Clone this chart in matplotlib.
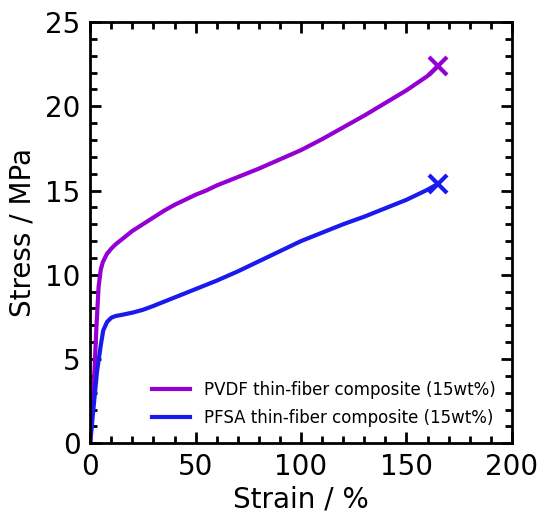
import matplotlib
matplotlib.use('Agg')
import matplotlib.pyplot as plt
from matplotlib.ticker import MultipleLocator

# strain (%) and stress (MPa)
pvdf_strain = [0, 1, 2, 3, 4, 5, 6, 8, 10, 12, 15, 20, 25, 30, 35, 40, 45, 50, 55, 60,
               70, 80, 90, 100, 110, 120, 130, 140, 150, 160, 165]
pvdf_stress = [0, 2.0, 4.2, 7.0, 9.3, 10.3, 10.75, 11.25, 11.55, 11.8, 12.1, 12.6,
               13.0, 13.4, 13.8, 14.15, 14.45, 14.75, 15.0, 15.3, 15.8, 16.3, 16.85,
               17.4, 18.05, 18.75, 19.45, 20.2, 20.95, 21.8, 22.4]

pfsa_strain = [0, 1.5, 3.2, 5, 6.2, 8, 10, 12, 15, 20, 25, 30, 35, 40, 50, 60, 70, 80,
               90, 100, 110, 120, 130, 140, 150, 160, 165]
pfsa_stress = [0, 2.0, 4.2, 5.8, 6.7, 7.2, 7.45, 7.55, 7.62, 7.75, 7.92, 8.15, 8.4,
               8.65, 9.15, 9.65, 10.2, 10.8, 11.4, 12.0, 12.5, 13.0, 13.45, 13.95, 14.45,
               15.05, 15.4]

labels = ['PVDF thin-fiber composite (15wt%)', 'PFSA thin-fiber composite (15wt%)']
colors = ['#9400d3', '#1a1aee']

fig = plt.figure(figsize=(5.4, 5.13), dpi=100)
ax = fig.add_axes([0.167, 0.136, 0.781, 0.821])

for x, y, lab, c in zip([pvdf_strain, pfsa_strain], [pvdf_stress, pfsa_stress], labels, colors):
    ax.plot(x, y, color=c, lw=3, label=lab)
    ax.plot(x[-1], y[-1], marker='x', color=c, ms=13, mew=3)

ax.set_xlim(0, 200)
ax.set_ylim(0, 25)
ax.xaxis.set_major_locator(MultipleLocator(50))
ax.xaxis.set_minor_locator(MultipleLocator(10))
ax.yaxis.set_major_locator(MultipleLocator(5))
ax.yaxis.set_minor_locator(MultipleLocator(1))
ax.tick_params(which='both', direction='in', top=True, right=True, width=2)
ax.tick_params(which='major', length=8, labelsize=20, pad=7)
ax.tick_params(which='minor', length=5)
for s in ax.spines.values():
    s.set_linewidth(2)

ax.set_xlabel('Strain / %', fontsize=20, labelpad=3)
ax.set_ylabel('Stress / MPa', fontsize=20, labelpad=6)
ax.legend(loc='lower right', frameon=False, fontsize=12, handlelength=2.3,
          borderaxespad=0.6, labelspacing=0.6)

fig.savefig('out.png', dpi=100)
